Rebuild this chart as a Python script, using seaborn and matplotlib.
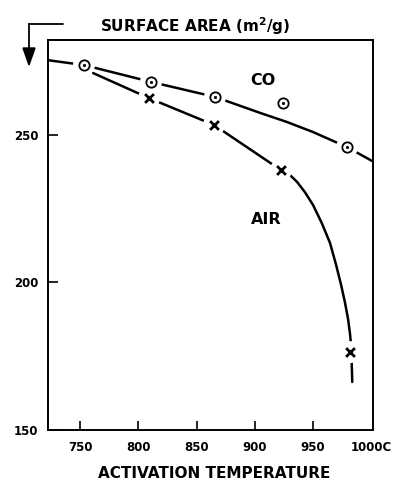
import matplotlib
matplotlib.use("Agg")
import matplotlib.pyplot as plt
import seaborn as sns
import pandas as pd
from matplotlib.lines import Line2D
from matplotlib.patches import FancyArrow

# ---- data ----
co_temp = [753.4, 810.9, 865.9, 924.3, 979.2]
co_area = [273.7, 268.0, 262.9, 260.8, 245.9]
co_on_curve = [True, True, True, False, True]

air_temp = [809.2, 865.0, 922.5, 981.8]
air_area = [262.5, 253.4, 238.1, 176.4]

# hand-drawn curves
co_curve_temp = [721.7, 753.4, 810.9, 865.9, 904.5, 927.7, 950.0, 979.2, 1000.7]
co_curve_area = [275.4, 273.7, 268.0, 262.9, 257.5, 254.4, 251.0, 245.9, 241.2]

air_curve_temp = [761.2, 809.2, 865.0, 922.5, 930.3, 936.3, 943.1, 950.0, 957.7,
                  964.6, 969.8, 974.1, 977.5, 980.1, 981.8, 982.4, 982.6, 983.2, 983.7]
air_curve_area = [271.0, 262.5, 253.4, 238.1, 236.4, 234.1, 230.6, 226.3, 220.0,
                  213.4, 206.0, 199.2, 193.1, 187.6, 182.5, 179.8, 176.4, 172.7, 166.3]

x_ticks = [750, 800, 850, 900, 950, 1000]
x_ticklabels = ["750", "800", "850", "900", "950", "1000C"]
y_ticks = [150, 200, 250]
y_ticklabels = ["150", "200", "250"]

sns.set_theme(style="ticks")
plt.rcParams["font.family"] = ["DejaVu Sans"]
plt.rcParams["text.color"] = "black"
plt.rcParams["axes.labelcolor"] = "black"
plt.rcParams["xtick.color"] = "black"
plt.rcParams["ytick.color"] = "black"

W, H = 402, 480
fig = plt.figure(figsize=(W / 100, H / 100), dpi=100)
ax = fig.add_axes([48 / W, 50 / H, 325 / W, 390 / H])

co_curve = pd.DataFrame({"t": co_curve_temp, "a": co_curve_area})
air_curve = pd.DataFrame({"t": air_curve_temp, "a": air_curve_area})
sns.lineplot(data=co_curve, x="t", y="a", sort=False, estimator=None,
             color="black", lw=1.8, ax=ax, zorder=2)
sns.lineplot(data=air_curve, x="t", y="a", sort=False, estimator=None,
             color="black", lw=1.8, ax=ax, zorder=2)

co_df = pd.DataFrame({"t": co_temp, "a": co_area, "on": co_on_curve})
air_df = pd.DataFrame({"t": air_temp, "a": air_area})

# white halos to break the curves around the points
halo = pd.concat([co_df[co_df["on"]][["t", "a"]], air_df], ignore_index=True)
sns.scatterplot(data=halo, x="t", y="a", s=250, color="white",
                edgecolor="none", ax=ax, zorder=3)

# CO: circled dots
sns.scatterplot(data=co_df, x="t", y="a", s=55, marker="o", facecolor="white",
                edgecolor="black", linewidth=1.3, ax=ax, zorder=4)
sns.scatterplot(data=co_df, x="t", y="a", s=3, marker="o", color="black",
                edgecolor="black", linewidth=0.5, ax=ax, zorder=5)
# AIR: crosses
sns.scatterplot(data=air_df, x="t", y="a", s=40, marker="x", color="black",
                linewidth=2.0, ax=ax, zorder=4)

ax.set_xlim(722.5, 1001.5)
ax.set_ylim(150, 282.2)
ax.set_xticks(x_ticks)
ax.set_xticklabels(x_ticklabels)
ax.set_yticks(y_ticks)
ax.set_yticklabels(y_ticklabels)
ax.set_xlabel("")
ax.set_ylabel("")
for s in ax.spines.values():
    s.set_visible(True)
    s.set_linewidth(1.4)
    s.set_color("black")
ax.tick_params(axis="y", direction="in", length=7.5, width=1.2, pad=7,
               labelsize=8.5, colors="black")
ax.tick_params(axis="x", direction="in", length=6.5, width=1.2, pad=8,
               labelsize=8.5, colors="black")
ax.xaxis.get_major_ticks()[-1].tick1line.set_visible(False)
for lab in ax.get_xticklabels() + ax.get_yticklabels():
    lab.set_fontweight("bold")

ax.text(907, 268.6, "CO", fontsize=11.5, fontweight="bold", ha="center", va="center")
ax.text(910, 221.5, "AIR", fontsize=11.5, fontweight="bold", ha="center", va="center")

fig.text(214 / W, 1 - 473 / H, "ACTIVATION TEMPERATURE", fontsize=11,
         fontweight="bold", ha="center", va="center")
fig.text(195 / W, 1 - 26 / H, "SURFACE AREA (m$^{\\mathbf{2}}$/g)", fontsize=11,
         fontweight="bold", ha="center", va="center")

# bent arrow at top-left
fig.add_artist(Line2D([63 / W, 29 / W], [1 - 24 / H, 1 - 24 / H], color="black",
                      lw=1.3, transform=fig.transFigure))
fig.add_artist(Line2D([29 / W, 29 / W], [1 - 24 / H, 1 - 50 / H], color="black",
                      lw=1.3, transform=fig.transFigure))
fig.add_artist(FancyArrow(29 / W, 1 - 48 / H, 0, -17 / H, width=0.0,
                          head_width=12 / W, head_length=17 / H,
                          length_includes_head=True, color="black",
                          transform=fig.transFigure))

fig.savefig("out.png", dpi=100)
